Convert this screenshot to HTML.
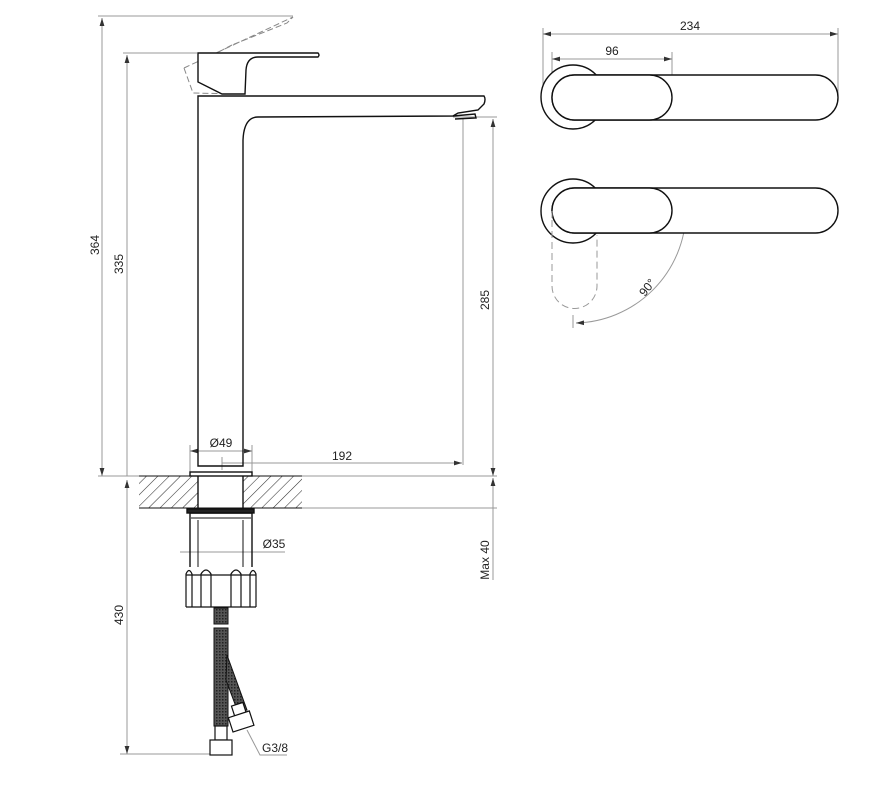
<!DOCTYPE html>
<html><head><style>html,body{margin:0;padding:0;background:#fff}svg{display:block}</style></head><body>
<svg width="874" height="788" viewBox="0 0 874 788" xmlns="http://www.w3.org/2000/svg" font-family="Liberation Sans, sans-serif">
<defs>
<marker id="a" viewBox="0 0 10 6" refX="10" refY="3" markerWidth="8" markerHeight="5" orient="auto-start-reverse"><path d="M0,0 L10,3 L0,6z" fill="#333"/></marker>
<pattern id="h" width="8" height="8" patternUnits="userSpaceOnUse" patternTransform="rotate(45)"><line x1="0" y1="0" x2="0" y2="8" stroke="#333" stroke-width="1.1"/></pattern>
<pattern id="br" width="3" height="3" patternUnits="userSpaceOnUse"><rect width="3" height="3" fill="#555"/><rect width="1.5" height="1.5" fill="#222"/></pattern>
</defs>
<g stroke="#999" stroke-width="1" fill="none">
<!-- 364 -->
<line x1="98" y1="16" x2="293" y2="16"/>
<line x1="102" y1="18" x2="102" y2="476" marker-start="url(#a)" marker-end="url(#a)"/>
<!-- 335 -->
<line x1="123" y1="53" x2="197" y2="53"/>
<line x1="127" y1="55" x2="127" y2="476" marker-start="url(#a)"/>
<!-- 430 -->
<line x1="127" y1="480" x2="127" y2="754" marker-start="url(#a)" marker-end="url(#a)"/>
<line x1="120" y1="754" x2="210" y2="754"/>
<!-- 285 -->
<line x1="453" y1="117" x2="497" y2="117"/>
<line x1="493" y1="119" x2="493" y2="476" marker-start="url(#a)" marker-end="url(#a)"/>
<line x1="463" y1="119" x2="463" y2="465"/>
<!-- counter lines -->
<line x1="98" y1="476" x2="139" y2="476"/>
<line x1="302" y1="476" x2="497" y2="476"/>
<line x1="302" y1="508" x2="497" y2="508"/>
<line x1="493" y1="478" x2="493" y2="580" marker-start="url(#a)"/>
<!-- 049 -->
<line x1="190" y1="445" x2="190" y2="473"/>
<line x1="252" y1="445" x2="252" y2="473"/>
<line x1="190" y1="451" x2="252" y2="451" marker-start="url(#a)" marker-end="url(#a)"/>
<!-- 192 -->
<line x1="222" y1="457" x2="222" y2="470"/>
<line x1="222" y1="463" x2="462" y2="463" marker-end="url(#a)"/>
<!-- 035 -->
<line x1="180" y1="552" x2="285" y2="552"/>
<line x1="198" y1="548" x2="198" y2="556" />
<!-- G3/8 leader -->
<polyline points="247,730 260,755 287,755"/>
</g>
<g font-size="12" fill="#222">
<text x="96" y="245" transform="rotate(-90 96 245)" text-anchor="middle" dominant-baseline="middle">364</text>
<text x="120" y="264" transform="rotate(-90 120 264)" text-anchor="middle" dominant-baseline="middle">335</text>
<text x="120" y="615" transform="rotate(-90 120 615)" text-anchor="middle" dominant-baseline="middle">430</text>
<text x="486" y="300" transform="rotate(-90 486 300)" text-anchor="middle" dominant-baseline="middle">285</text>
<text x="486" y="560" transform="rotate(-90 486 560)" text-anchor="middle" dominant-baseline="middle">Max 40</text>
<text x="221" y="447" text-anchor="middle">Ø49</text>
<text x="342" y="460" text-anchor="middle">192</text>
<text x="274" y="548" text-anchor="middle">Ø35</text>
<text x="275" y="752" text-anchor="middle">G3/8</text>
<text x="690" y="30" text-anchor="middle">234</text>
<text x="612" y="55" text-anchor="middle">96</text>
<text x="648" y="288" transform="rotate(-52 648 288)" text-anchor="middle" dominant-baseline="middle">90°</text>
</g>
<!-- dashed lever -->
<g stroke="#888" stroke-width="1" fill="none" stroke-dasharray="6,3">
<path d="M184,68 L293,17 L287,23 L232,45 M184,68 L193,93 L240,94 M205,63 L212,56 Q222,50 232,45"/>
</g>
<!-- faucet -->
<g stroke="#111" stroke-width="1.4" fill="none">
<path d="M198,53 L318,53 Q320,55 318,57 L258,57 Q247,57 246,70 L245,94 L222,94 L198,82 Z" fill="#fff"/>
<path d="M198,96 L484,96 Q486,99 484,104 L478,110 L458,113 L453,116 L258,117 Q244,117 243,140 L243,466 L198,466 Z"/>
<path d="M453,116 L475,114 L476,118 L455,119"/>
<rect x="190" y="472" width="62" height="4"/>
<rect x="139" y="476" width="59" height="32" fill="url(#h)" stroke="none"/>
<rect x="243" y="476" width="59" height="32" fill="url(#h)" stroke="none"/>
<line x1="139" y1="476" x2="302" y2="476" stroke-width="1"/>
<line x1="139" y1="508" x2="302" y2="508" stroke-width="1"/>
<line x1="198" y1="476" x2="198" y2="508"/>
<line x1="243" y1="476" x2="243" y2="508"/>
<rect x="187" y="509" width="67" height="4" fill="#222"/>
<path d="M190,513 L252,513 L252,567 M190,513 L190,567"/>
<line x1="191" y1="518" x2="251" y2="518" stroke-width="1"/>
<line x1="198" y1="520" x2="198" y2="567" stroke-width="1"/>
<line x1="243" y1="520" x2="243" y2="567" stroke-width="1"/>
<path d="M186,607 L186,574 Q189,567 192,574 L192,607 M201,607 L201,574 Q206,566 211,574 L211,607 M231,607 L231,574 Q236,566 241,574 L241,607 M250,607 L250,574 Q253,567 256,574 L256,607 M186,607 L256,607 M186,575 L256,575" stroke-width="1.2"/>
</g>
<!-- hoses -->
<rect x="214" y="608" width="14" height="16" fill="url(#br)" stroke="#111"/>
<rect x="214" y="628" width="14" height="98" fill="url(#br)" stroke="#111"/>
<path d="M227,655 L247,710 L238,712 L226,680 Z" fill="url(#br)" stroke="#111"/>
<g stroke="#111" stroke-width="1.2" fill="#fff">
<rect x="215" y="726" width="12" height="14"/>
<rect x="210" y="740" width="22" height="15"/>
<rect x="233" y="704" width="12" height="12" transform="rotate(-18 239 710)"/>
<rect x="230" y="714" width="22" height="15" transform="rotate(-18 241 721)"/>
</g>
<!-- right views -->
<g stroke="#999" stroke-width="1" fill="none">
<line x1="543" y1="28" x2="543" y2="100"/>
<line x1="838" y1="28" x2="838" y2="98"/>
<line x1="543" y1="34" x2="838" y2="34" marker-start="url(#a)" marker-end="url(#a)"/>
<line x1="552" y1="52" x2="552" y2="78"/>
<line x1="672" y1="52" x2="672" y2="80"/>
<line x1="552" y1="59" x2="672" y2="59" marker-start="url(#a)" marker-end="url(#a)"/>
<line x1="675" y1="211" x2="692" y2="211"/>
<line x1="573" y1="315" x2="573" y2="328"/>
<path d="M686,213 A113,113 0 0 1 576,323" marker-start="url(#a)" marker-end="url(#a)"/>
</g>
<g stroke="#111" stroke-width="1.4" fill="#fff">
<circle cx="573" cy="97" r="32"/>
<rect x="552" y="75" width="286" height="45" rx="22.5"/>
<rect x="552" y="75" width="120" height="45" rx="22.5"/>
<circle cx="573" cy="211" r="32"/>
<rect x="552" y="188" width="286" height="45" rx="22.5"/>
<rect x="552" y="188" width="120" height="45" rx="22.5"/>
</g>
<path d="M552,220 L552,286 A22.5,22.5 0 0 0 597,286 L597,235 M552,211 L552,220" fill="none" stroke="#999" stroke-width="1" stroke-dasharray="7,4"/>
</svg>
</body></html>
